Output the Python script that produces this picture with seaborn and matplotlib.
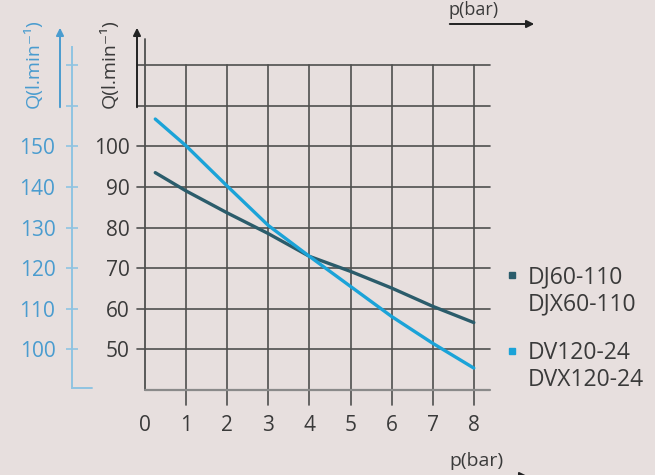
import matplotlib
matplotlib.use("Agg")
import matplotlib.pyplot as plt
import pandas as pd
import seaborn as sns

# Data
pressure = [0.25, 1, 2, 3, 4, 5, 6, 7, 8]
flow_dj60 = [93.5, 89.0, 83.6, 78.5, 72.9, 69.2, 65.1, 60.6, 56.6]
flow_dv120 = [106.7, 100.1, 90.2, 80.5, 72.9, 65.5, 58.1, 51.5, 45.4]
series_labels = ["DJ60-110\nDJX60-110", "DV120-24\nDVX120-24"]
x_ticks = [0, 1, 2, 3, 4, 5, 6, 7, 8]
y_ticks = [50, 60, 70, 80, 90, 100]
y_grid = [50, 60, 70, 80, 90, 100, 110, 120]
y2_ticks = [100, 110, 120, 130, 140, 150, 160, 170]
y2_labels = ["100", "110", "120", "130", "140", "150", "", ""]

bg = "#e7dfde"
grid_c = "#4f4f4f"
text_c = "#3a3a3a"
dark_c = "#2b5c6b"
blue_c = "#1ba3d8"
blue_txt = "#4a9ccf"
blue_axis = "#8fc4e2"

df = pd.DataFrame({
    "p": pressure * 2,
    "Q": flow_dj60 + flow_dv120,
    "model": [series_labels[0]] * len(pressure) + [series_labels[1]] * len(pressure),
})

sns.set_theme(style="white")
plt.rcParams["font.family"] = ["Open Sans", "DejaVu Sans"]

W, H = 655, 475
fig = plt.figure(figsize=(W / 100, H / 100), dpi=100)
fig.patch.set_facecolor(bg)

# pixel geometry of the plot area
x0, y0 = 145, 390
ux, uy = 41.1, 4.0625
ax = fig.add_axes([x0 / W, (H - y0) / H, 8.4 * ux / W, 80 * uy / H])
ax.set_facecolor("none")
ax.set_xlim(0, 8.4)
ax.set_ylim(40, 120)
for s in ax.spines.values():
    s.set_visible(False)

# grid, drawn past the plot edges like the original
for q in y_grid:
    ax.plot([-0.2, 8.4], [q, q], color=grid_c, lw=1.2, clip_on=False, zorder=1)
for p in x_ticks[1:]:
    ax.plot([p, p], [36.3, 120], color=grid_c, lw=1.2, clip_on=False, zorder=1)
ax.plot([0, 0], [40, 126.5], color=grid_c, lw=1.3, clip_on=False, zorder=1)
ax.plot([0, 8.4], [40, 40], color="#8a8a8a", lw=1.6, clip_on=False, zorder=1)

sns.lineplot(data=df, x="p", y="Q", hue="model", palette=[dark_c, blue_c],
             lw=2.4, legend=False, ax=ax, zorder=3)
ax.set_xlabel("")
ax.set_ylabel("")

ax.set_xticks(x_ticks)
ax.set_xticklabels([str(t) for t in x_ticks])
ax.set_yticks(y_ticks)
ax.set_yticklabels([str(t) for t in y_ticks])
ax.tick_params(axis="x", length=0, pad=18, labelsize=15, labelcolor=text_c)
ax.tick_params(axis="y", length=0, pad=11, labelsize=15, labelcolor=text_c)

# second (blue) flow scale
sec = ax.secondary_yaxis(-73 / (8.4 * ux), functions=(lambda q: q + 50, lambda q: q - 50))
sec.set_yticks(y2_ticks)
sec.set_yticklabels(y2_labels)
sec.tick_params(axis="y", direction="inout", length=8, width=1.2, color=blue_axis,
                pad=8, labelsize=15, labelcolor=blue_txt)
sec.spines["left"].set_color(blue_axis)
sec.spines["left"].set_linewidth(1.4)
sec.spines["left"].set_bounds(90.5, 174.4)
ax.plot([-73 / ux, -53 / ux], [40.5, 40.5], color=blue_axis, lw=1.4, clip_on=False)


def fp(x, y):
    return (x, H - y)


# axis arrows and titles
arrow_kw = dict(arrowstyle="-|>", lw=1.4, mutation_scale=11)
ax.annotate("", xy=fp(60, 25), xytext=fp(60, 110), xycoords="figure pixels",
            arrowprops=dict(color=blue_txt, **arrow_kw))
ax.annotate("", xy=fp(137, 25), xytext=fp(137, 110), xycoords="figure pixels",
            arrowprops=dict(color="#222222", **arrow_kw))
ax.annotate("", xy=fp(537, 24), xytext=fp(447, 24), xycoords="figure pixels",
            arrowprops=dict(color="#222222", **arrow_kw))
ax.annotate("", xy=fp(530, 476), xytext=fp(447, 476), xycoords="figure pixels",
            arrowprops=dict(color="#222222", **arrow_kw))

fig.text(33 / W, 1 - 64 / H, "Q(l.min⁻¹)", rotation=90, ha="center", va="center",
         fontsize=14, color=blue_txt)
fig.text(109 / W, 1 - 64 / H, "Q(l.min⁻¹)", rotation=90, ha="center", va="center",
         fontsize=14, color=text_c)
fig.text(474 / W, 1 - 1 / H, "p(bar)", ha="center", va="top", fontsize=13, color=text_c)
fig.text(476 / W, 1 - 461 / H, "p(bar)", ha="center", va="center", fontsize=14, color=text_c)

# legend
for label, color, ytop in zip(series_labels, [dark_c, blue_c], [265, 341]):
    fig.add_artist(plt.Rectangle((509 / W, 1 - (ytop + 13) / H), 6 / W, 6 / H,
                                 transform=fig.transFigure, color=color))
    fig.text(528 / W, 1 - ytop / H, label, ha="left", va="top", fontsize=16.5,
             color=text_c, linespacing=1.17)

fig.savefig("out.png", dpi=100, facecolor=bg)
